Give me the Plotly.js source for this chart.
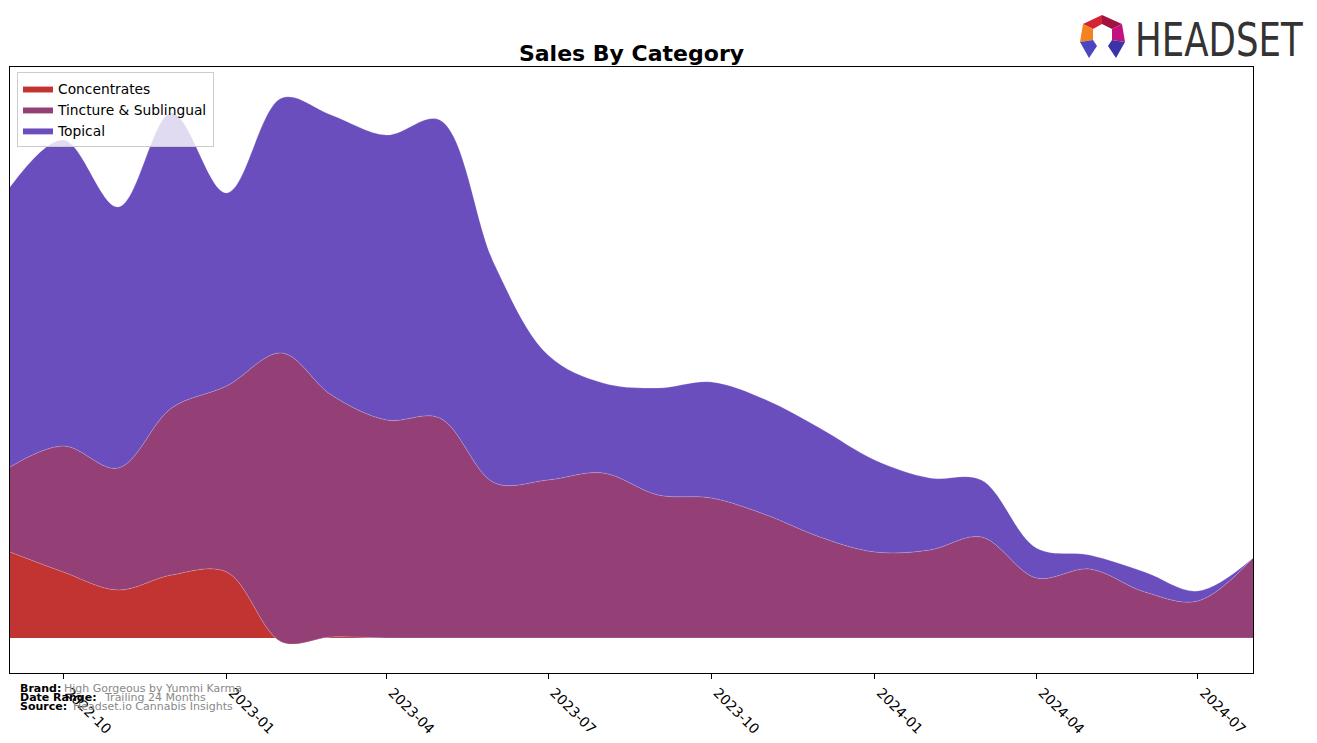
<!DOCTYPE html>
<html>
<head>
<meta charset="utf-8">
<script src="https://cdn.plot.ly/plotly-3.0.1.min.js"></script>
<style>
html,body{margin:0;padding:0;background:#fff;}
#chart{width:1317px;height:743px;}
</style>
</head>
<body>
<div id="chart"></div>
<script>
const months = ['2022-09','2022-10','2022-11','2022-12','2023-01','2023-02','2023-03','2023-04',
  '2023-05','2023-06','2023-07','2023-08','2023-09','2023-10','2023-11','2023-12',
  '2024-01','2024-02','2024-03','2024-04','2024-05','2024-06','2024-07','2024-08'];
const concentrates = [86,66,48,63,66,-4,1,0,0,0,0,0,0,0,0,0,0,0,0,0,0,0,0,0];
const tincture = [85,126,122,167,186,289,242,218,220,155,158,165,143,140,123,101,86,88,101,60,69,46,37,80];
const topical = [280,306,261,295,193,255,280,285,298,218,125,90,107,116,115,109,92,72,57,30,14,20,10,0];
const seriesNames = ['Concentrates','Tincture & Sublingual','Topical'];
const seriesColors = ['#C23431','#953F77','#6A4EBD'];
const tickDates = ['2022-10','2023-01','2023-04','2023-07','2023-10','2024-01','2024-04','2024-07'];
const tickLabels = ['2022-10','2023-01','2023-04','2023-07','2023-10','2024-01','2024-04','2024-07'];

const seriesValues = [concentrates, tincture, topical];
const traces = seriesValues.map((vals, i) => ({
  type: 'scatter',
  mode: 'lines',
  x: months,
  y: vals,
  name: seriesNames[i],
  stackgroup: 'one',
  fillcolor: seriesColors[i],
  line: {shape: 'spline', smoothing: 1.0, width: 0.6, color: 'rgba(255,255,255,0.35)'},
  hoverinfo: 'skip'
}));

// footer / logo helpers (pixel -> paper)
const L = 10, R = 1253, T = 67, B = 673;
const px = x => (x - L) / (R - L);
const py = y => (B - y) / (B - T);

const font = 'DejaVu Sans, sans-serif';
const footer = [
  {label: 'Brand:', value: 'High Gorgeous by Yummi Karma', y: 688, vx: 62},
  {label: 'Date Range:', value: 'Trailing 24 Months', y: 697, vx: 102},
  {label: 'Source:', value: 'Headset.io Cannabis Insights', y: 706, vx: 71}
];
const annotations = [];
footer.forEach(f => {
  annotations.push({xref:'paper', yref:'paper', x: px(18), y: py(f.y), xanchor:'left', yanchor:'middle',
    text: '<b>' + f.label + '</b>', showarrow:false, font:{family:font, size:11, color:'#000'}});
  annotations.push({xref:'paper', yref:'paper', x: px(f.vx), y: py(f.y), xanchor:'left', yanchor:'middle',
    text: f.value, showarrow:false, font:{family:font, size:11, color:'#888'}});
});
const LOGO_TEXT = 'HEADSET';
annotations.push({xref:'paper', yref:'paper', x: px(1219), y: py(39), xanchor:'center', yanchor:'middle',
  text: LOGO_TEXT, showarrow:false,
  font:{family:'DejaVu Sans, sans-serif', size:47, color:'#333333'}});

const logoSvg = '<svg xmlns="http://www.w3.org/2000/svg" viewBox="0 0 47 45" preserveAspectRatio="none" width="47" height="45">' +
  '<polygon points="4,10 23,1 23,10 14,15" fill="#D42333"/>' +
  '<polygon points="23,1 43,10 33,15 23,10" fill="#A3123F"/>' +
  '<polygon points="4,10 14,15 14,26 1,28" fill="#F58220"/>' +
  '<polygon points="43,10 46,28 33,26 33,15" fill="#C2127E"/>' +
  '<polygon points="1,28 14,26 18,32 10,44" fill="#4B45C0"/>' +
  '<polygon points="33,26 46,28 37,44 29,32" fill="#3A34A8"/>' +
  '</svg>';
const logoSrc = 'data:image/svg+xml;base64,' + btoa(logoSvg);

const layout = {
  width: 1317, height: 743,
  margin: {l: L, r: 1317 - R, t: T, b: 743 - B, pad: 0},
  paper_bgcolor: '#fff', plot_bgcolor: '#fff',
  showlegend: true,
  title: {text: 'Sales By Category', x: 0.5, xref: 'paper', y: 1 - 53/743, yref: 'container',
    xanchor: 'center', yanchor: 'middle', font: {family: font, size: 22, weight: 'bold', color: '#000'}},
  legend: {x: px(17), y: py(72), xanchor: 'left', yanchor: 'top', traceorder: 'normal',
    bgcolor: 'rgba(255,255,255,0.8)', bordercolor: '#cccccc', borderwidth: 1, tracegroupgap: 0,
    font: {family: font, size: 13.8, color: '#000'}},
  xaxis: {type: 'date', range: ['2022-09-01', '2024-08-01'],
    tickmode: 'array', tickvals: tickDates, ticktext: tickLabels, tickangle: 45,
    ticks: 'outside', ticklen: 5, tickwidth: 1, tickcolor: '#000', ticklabelshift: 6,
    showline: true, mirror: true, linecolor: '#000', linewidth: 1,
    showgrid: false, zeroline: false,
    tickfont: {family: font, size: 13.9, color: '#000'}},
  yaxis: {range: [-35, 571], showticklabels: false, ticks: '', showgrid: false, zeroline: false,
    showline: true, mirror: true, linecolor: '#000', linewidth: 1},
  annotations: annotations,
  images: [{source: logoSrc, xref: 'paper', yref: 'paper', x: px(1079), y: py(14),
    sizex: 47/(R-L), sizey: 45/(B-T), sizing: 'stretch', xanchor: 'left', yanchor: 'top', layer: 'above'}],
  hovermode: false
};

Plotly.newPlot('chart', traces, layout, {staticPlot: true, displayModeBar: false}).then(gd => {
  gd.querySelectorAll('.annotation-text').forEach(n => {
    if (n.textContent === LOGO_TEXT) {
      const bb = n.getBBox();
      const cx = bb.x + bb.width / 2;
      const s = 168 / bb.width;
      n.setAttribute('transform', 'translate(' + cx + ',0) scale(' + s + ',1) translate(' + (-cx) + ',0)');
    }
  });
});
</script>
</body>
</html>
